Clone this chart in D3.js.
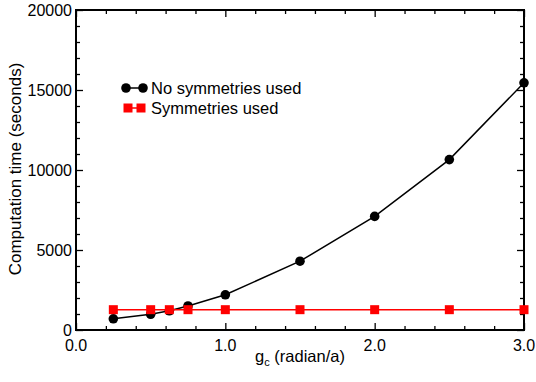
<!DOCTYPE html>
<html>
<head>
<meta charset="utf-8">
<script src="https://cdn.jsdelivr.net/npm/d3@7"></script>
<style>
  html, body { margin: 0; padding: 0; background: #fff; }
  svg { display: block; }
  text { font-family: "Liberation Sans", Arial, Helvetica, sans-serif; fill: #000; }
</style>
</head>
<body>
<svg id="chart" width="536" height="382"></svg>
<script>
// g_c values (radian/a) at which the computation was timed
const gc = [0.25, 0.5, 0.625, 0.75, 1.0, 1.5, 2.0, 2.5, 3.0];
// computation time in seconds
const timeNoSym = [700, 980, 1200, 1500, 2200, 4300, 7100, 10650, 15450];
const timeSym = [1270, 1270, 1270, 1270, 1270, 1270, 1270, 1270, 1270];
const seriesNames = ["No symmetries used", "Symmetries used"];
const xTickLabels = ["0.0", "1.0", "2.0", "3.0"];
const yTickLabels = ["0", "5000", "10000", "15000", "20000"];

const svg = d3.select("#chart");
const m = { left: 76, right: 12, top: 10, bottom: 52 };
const W = 536, H = 382;
const x = d3.scaleLinear().domain([0, 3]).range([m.left, W - m.right]);
const y = d3.scaleLinear().domain([0, 20000]).range([H - m.bottom, m.top]);

const xMajor = xTickLabels.map(Number);
const xMinor = d3.range(0, 3.0001, 0.2).filter(v => Math.abs(v - Math.round(v)) > 1e-6);
const yMajor = yTickLabels.map(Number);
const yMinor = d3.range(0, 20001, 1000).filter(v => v % 5000 !== 0);

const g = svg.append("g");

// ticks on all four sides, pointing inward
function ticks(axisGen, tr, vals, len) {
  const a = g.append("g").attr("transform", tr)
    .call(axisGen.tickValues(vals).tickSize(len).tickFormat(""));
  a.select(".domain").remove();
  a.selectAll("line").attr("stroke", "#000").attr("stroke-width", 1.3);
}
const bottomY = y(0), topY = y(20000), leftX = x(0), rightX = x(3);
ticks(d3.axisTop(x), `translate(0,${bottomY})`, xMajor, 7);
ticks(d3.axisTop(x), `translate(0,${bottomY})`, xMinor, 4);
ticks(d3.axisBottom(x), `translate(0,${topY})`, xMajor, 7);
ticks(d3.axisBottom(x), `translate(0,${topY})`, xMinor, 4);
ticks(d3.axisRight(y), `translate(${leftX},0)`, yMajor, 7);
ticks(d3.axisRight(y), `translate(${leftX},0)`, yMinor, 4);
ticks(d3.axisLeft(y), `translate(${rightX},0)`, yMajor, 7);
ticks(d3.axisLeft(y), `translate(${rightX},0)`, yMinor, 4);

// frame
g.append("rect")
  .attr("x", leftX).attr("y", topY)
  .attr("width", rightX - leftX).attr("height", bottomY - topY)
  .attr("fill", "none").attr("stroke", "#000").attr("stroke-width", 2);

// tick labels
g.selectAll(".xl").data(xTickLabels).enter().append("text")
  .attr("x", d => x(+d)).attr("y", bottomY + 21)
  .attr("text-anchor", "middle").attr("font-size", 16).text(d => d);
g.selectAll(".yl").data(yTickLabels).enter().append("text")
  .attr("x", leftX - 4).attr("y", d => y(+d) + 5.5)
  .attr("text-anchor", "end").attr("font-size", 16).text(d => d);

// axis titles
const xt = g.append("text").attr("x", 300).attr("y", 362)
  .attr("text-anchor", "middle").attr("font-size", 16.5);
xt.append("tspan").text("g");
xt.append("tspan").attr("dy", 4).attr("font-size", 11).text("c");
xt.append("tspan").attr("dy", -4).text(" (radian/a)");

g.append("text")
  .attr("transform", `translate(21,${(topY + bottomY) / 2 - 1}) rotate(-90)`)
  .attr("text-anchor", "middle").attr("font-size", 17)
  .text("Computation time (seconds)");

const line = d3.line().x(d => x(d[0])).y(d => y(d[1]));
const dNo = gc.map((v, i) => [v, timeNoSym[i]]);
const dSym = gc.map((v, i) => [v, timeSym[i]]);

// series without symmetries
g.append("path").datum(dNo).attr("d", line)
  .attr("fill", "none").attr("stroke", "#000").attr("stroke-width", 1.5);
g.selectAll(".cNo").data(dNo).enter().append("circle")
  .attr("cx", d => x(d[0])).attr("cy", d => y(d[1])).attr("r", 4.8).attr("fill", "#000");

// series with symmetries
g.append("path").datum(dSym).attr("d", line)
  .attr("fill", "none").attr("stroke", "#f00").attr("stroke-width", 1.5);
const s = 9;
g.selectAll(".sSym").data(dSym).enter().append("rect")
  .attr("x", d => x(d[0]) - s / 2).attr("y", d => y(d[1]) - s / 2)
  .attr("width", s).attr("height", s).attr("fill", "#f00");

// legend
const lg = g.append("g");
lg.append("line").attr("x1", 126).attr("x2", 143).attr("y1", 88).attr("y2", 88)
  .attr("stroke", "#000").attr("stroke-width", 1.5);
[126, 143].forEach(cx => lg.append("circle").attr("cx", cx).attr("cy", 88).attr("r", 4.8).attr("fill", "#000"));
lg.append("line").attr("x1", 128).attr("x2", 141).attr("y1", 108).attr("y2", 108)
  .attr("stroke", "#f00").attr("stroke-width", 1.5);
[128, 141].forEach(cx => lg.append("rect").attr("x", cx - s / 2).attr("y", 108 - s / 2)
  .attr("width", s).attr("height", s).attr("fill", "#f00"));
lg.append("text").attr("x", 151).attr("y", 94).attr("font-size", 16.5).text(seriesNames[0]);
lg.append("text").attr("x", 151).attr("y", 114).attr("font-size", 16.5).text(seriesNames[1]);
</script>
</body>
</html>
